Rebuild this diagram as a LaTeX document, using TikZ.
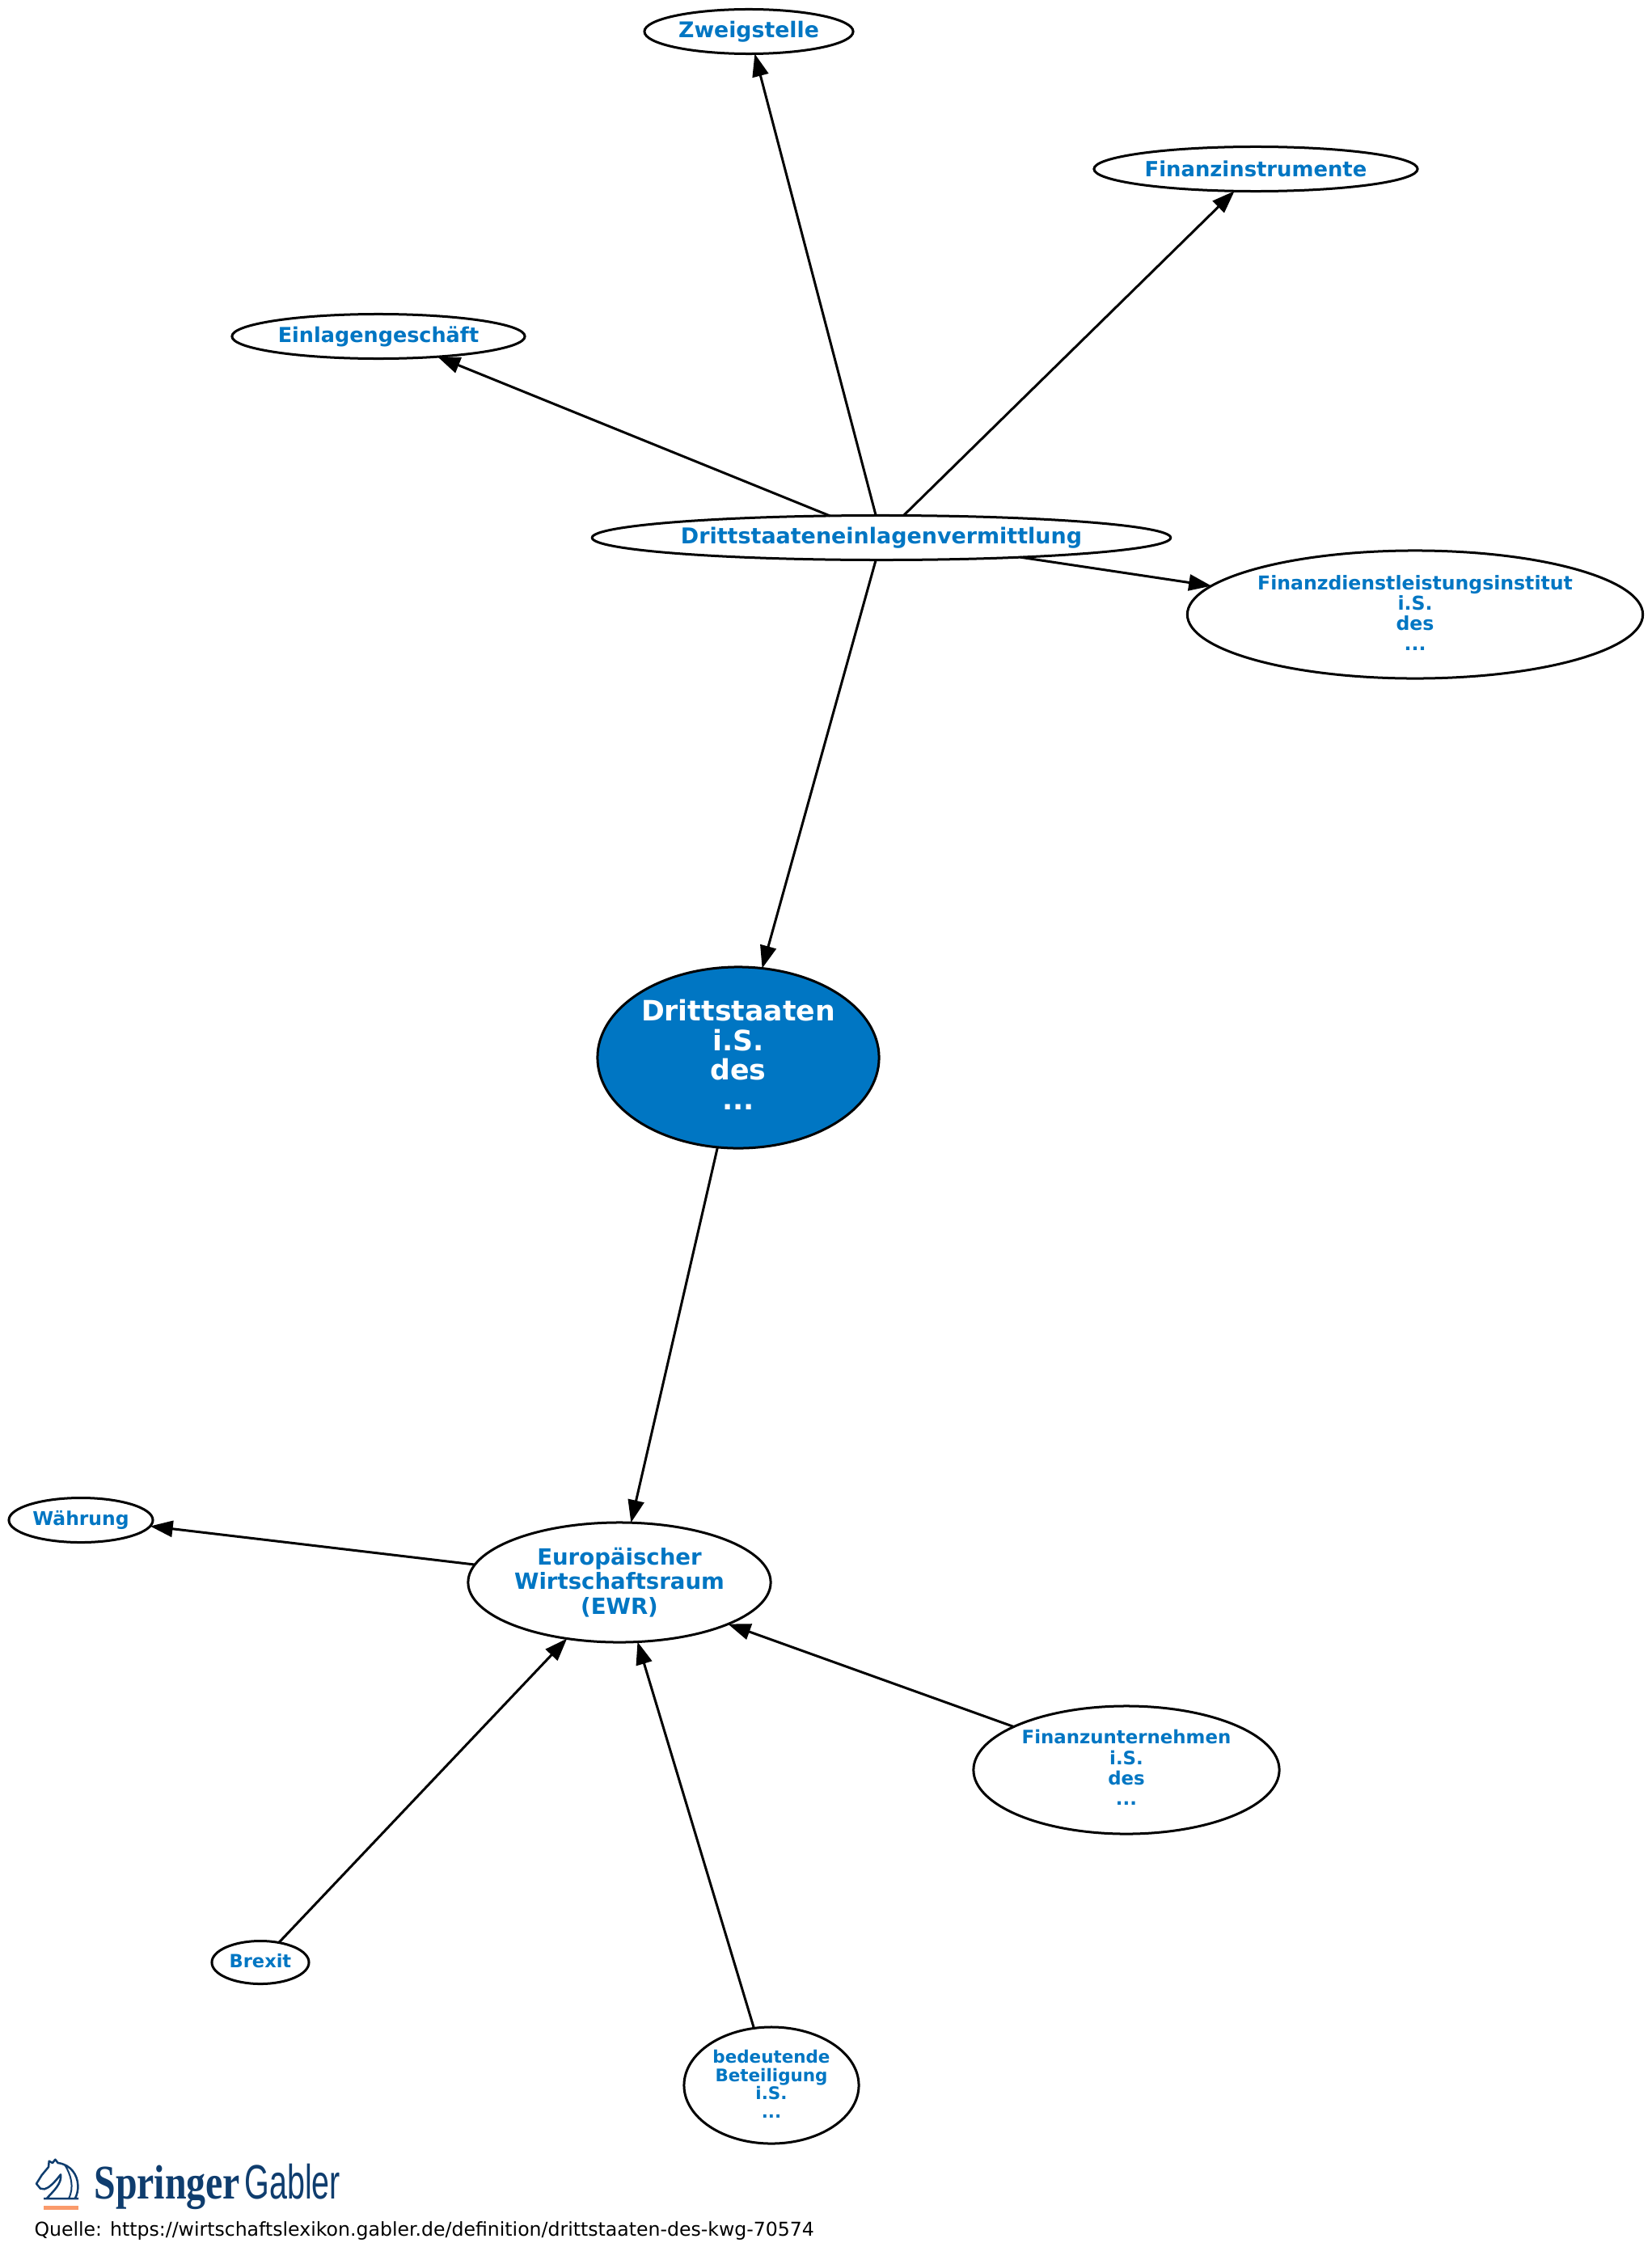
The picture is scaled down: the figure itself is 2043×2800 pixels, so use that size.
\documentclass[tikz,border=0pt]{standalone}
\usepackage{fontspec}
\setmainfont{DejaVu Sans}
\newfontfamily\logoserif[FakeStretch=0.8]{Liberation Serif}
\newfontfamily\logosans[FakeStretch=0.66]{Liberation Sans}
\usetikzlibrary{arrows.meta,shapes.geometric}
\definecolor{lexblue}{HTML}{0076C3}
\definecolor{logoblue}{HTML}{0F3D6E}
\definecolor{logoorange}{HTML}{FA9A6B}
\newcommand{\topicsize}[2]{\fontsize{#1}{#2}\selectfont\bfseries}
\newcommand{\sink}[1]{\rule[-#1]{0pt}{0pt}}

\begin{document}
\begin{tikzpicture}[
        x=0.01cm,y=-0.01cm,
        every path/.style={line width=0.03cm},
        topic/.style={draw,ellipse,inner sep=0pt,outer sep=0pt,align=center,text=lexblue,fill=white},
        link/.style={-{Triangle[length=0.28cm,width=0.2cm]},line width=0.03cm}
    ]
        \useasboundingbox (0,0) rectangle (2043,2800);

        \node (zweig) [topic,minimum width=2.58cm,minimum height=0.55cm,font=\topicsize{7.6}{9}] at (926,39) {Zweigstelle};
        \node (instr) [topic,minimum width=4cm,minimum height=0.55cm,font=\topicsize{7.35}{9}] at (1553,209) {Finanzinstrumente};
        \node (einlag) [topic,minimum width=3.62cm,minimum height=0.55cm,font=\topicsize{7.25}{9}] at (468,416) {Einlagengeschäft};
        \node (vermittl) [topic,minimum width=7.15cm,minimum height=0.55cm,font=\topicsize{7.66}{9}] at (1090,665) {Drittstaateneinlagenvermittlung};
        \node (dienst) [topic,minimum width=5.63cm,minimum height=1.58cm,font=\topicsize{6.7}{7.15}] at (1750,760) {Finanzdienstleistungsinstitut\\i.S.\\des\\...\sink{0.035cm}};
        \node (staaten) [topic,fill=lexblue,text=white,minimum width=3.48cm,minimum height=2.24cm,font=\topicsize{9.87}{10.4}] at (913,1308) {Drittstaaten\\i.S.\\des\\...\sink{0.07cm}};
        \node (ewr) [topic,minimum width=3.74cm,minimum height=1.48cm,font=\topicsize{7.84}{8.7}] at (766,1957) {Europäischer\\Wirtschaftsraum\\(EWR)};
        \node (waehrung) [topic,minimum width=1.78cm,minimum height=0.55cm,font=\topicsize{6.66}{7.3}] at (100,1880) {Währung};
        \node (unternehmen) [topic,minimum width=3.78cm,minimum height=1.58cm,font=\topicsize{6.5}{7.15}] at (1393,2189) {Finanzunternehmen\\i.S.\\des\\...\sink{0.06cm}};
        \node (brexit) [topic,minimum width=1.2cm,minimum height=0.53cm,font=\topicsize{6.4}{7}] at (322,2427) {Brexit\sink{0.035cm}};
        \node (beteil) [topic,minimum width=2.16cm,minimum height=1.44cm,font=\topicsize{6.1}{6.5}] at (954,2579) {bedeutende\\Beteiligung\\i.S.\\...\sink{0.035cm}};

        \draw [link] (vermittl.104.5) -- (zweig.-75);
        \draw [link] (vermittl.45) -- (instr.-134);
        \draw [link] (vermittl.157.5) -- (einlag.-19.5);
        \draw [link] (vermittl.-8.9) -- (dienst.172.1);
        \draw [link] (vermittl.-104.5) -- (staaten.75);
        \draw [link] (staaten.-103) -- (ewr.79);
        \draw [link] (ewr.173.4) -- (waehrung.-5.8);
        \draw [link] (unternehmen.159.8) -- (ewr.-21);
        \draw [link] (brexit.47.6) -- (ewr.-133.8);
        \draw [link] (beteil.107.5) -- (ewr.-73);

        % logo
        \draw [logoblue,line width=0.025cm,line join=round] (54,2719) -- (97,2719)
            (92.7,2719) .. controls (98,2710) and (98,2695) .. (90,2685) .. controls (86,2680) and (80,2676) .. (71.7,2675)
            -- (68.3,2670.7) -- (65,2675) -- (60.7,2672.7) -- (60,2680) -- (51.7,2690) -- (45,2700.7) -- (50,2706.7) -- (55,2707.3)
            .. controls (60,2706) and (66,2701) .. (75,2689.3) .. controls (77,2700) and (66,2710) .. (58.3,2718.3);
        \draw [logoblue,line width=0.02cm] (80,2677) .. controls (88,2690) and (92,2705) .. (85,2719);
        \fill [logoorange] (54,2728) rectangle (97,2733);
        \node (springer) [anchor=base west,inner sep=0pt,text=logoblue,font=\logoserif\fontsize{17}{18}\selectfont\bfseries] at (115,2719) {Springer};
        \node (gabler) [anchor=base west,inner sep=0pt,text=logoblue,font=\logosans\fontsize{17}{18}\selectfont] at (301,2719) {Gabler};
        \node (quelle) [anchor=base west,inner sep=0pt,font=\fontsize{6.71}{7}\selectfont] at (41,2765) {Quelle: https://wirtschaftslexikon.gabler.de/definition/drittstaaten-des-kwg-70574};
    \end{tikzpicture}
\end{document}
